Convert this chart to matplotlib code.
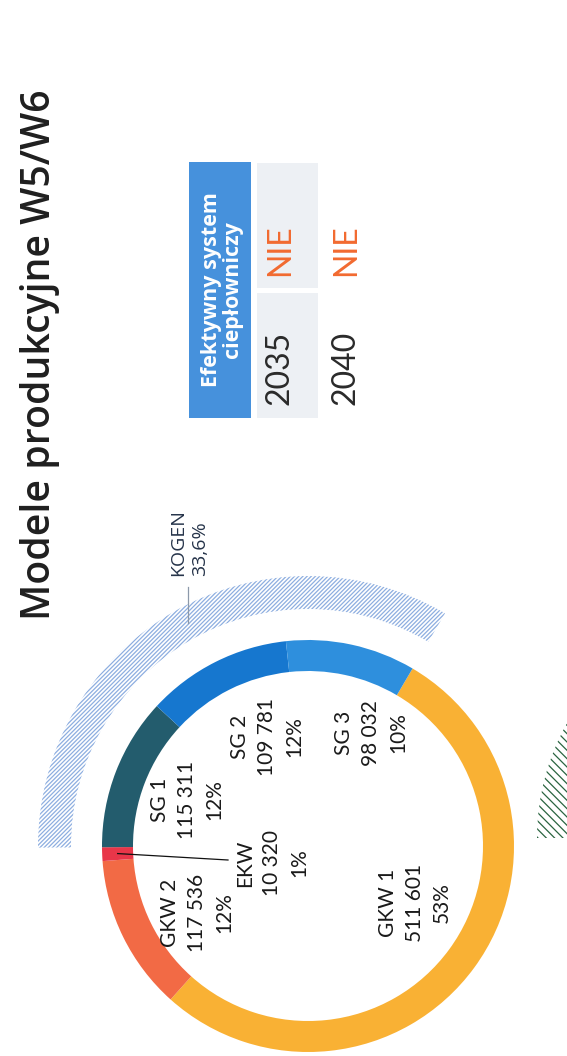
import math
import matplotlib
matplotlib.use("Agg")
import matplotlib.pyplot as plt
from matplotlib.patches import Wedge, Rectangle

# --- data ---------------------------------------------------------------
units = ["GKW 1", "GKW 2", "EKW", "SG 1", "SG 2", "SG 3"]
output_mwh = [511601, 117536, 10320, 115311, 109781, 98032]
printed_share = [53, 12, 1, 12, 12, 10]
kogen_units = ["SG 1", "SG 2", "SG 3"]

table_header = "Efektywny system\nciepłowniczy"
years = ["2035", "2040"]
answers = ["NIE", "NIE"]

title = "Modele produkcyjne W5/W6"

# --- styling ------------------------------------------------------------
colors = ["#F9B134", "#F26A45", "#E83649", "#235C6D", "#1677CF", "#2E8FDD"]
hatch_blue = "#8DAEE0"
hatch_green = "#2A6440"
header_blue = "#4691DC"
cell_gray = "#EDF0F4"
orange_txt = "#F26A30"

W, H = 567, 1056
CX, CY = 308, 846          # donut centre (page coords, y downwards)
R_OUT, RING_W = 206, 31
START = 59.5

plt.rcParams["hatch.linewidth"] = 0.9
plt.rcParams["font.family"] = ["Lato", "DejaVu Sans"]

fig = plt.figure(figsize=(W / 100, H / 100), dpi=100)
ax = fig.add_axes([0, 0, 1, 1])


def Y(y):
    return H - y


def rtext(x, y, s, **kw):
    kw.setdefault("ha", "center")
    kw.setdefault("va", "center")
    return ax.text(x, Y(y), s, rotation=90, rotation_mode="anchor", **kw)


# --- donut ----------------------------------------------------------------
ax.pie(output_mwh, colors=colors, startangle=START, counterclock=False,
       radius=R_OUT, center=(CX, Y(CY)),
       wedgeprops=dict(width=RING_W, edgecolor="none", linewidth=0))

total = sum(output_mwh)
angles = []
a = START
for v in output_mwh:
    span = 360 * v / total
    angles.append((a - span, a))
    a -= span

# KOGEN outer hatched arc spans the SG units
kogen_total = sum(v for u, v in zip(units, output_mwh) if u in kogen_units)
kogen_share = kogen_total / total
ekw_lo, ekw_hi = angles[units.index("EKW")]
k_end = ekw_lo
k_start = k_end - 360 * kogen_share
ax.add_patch(Wedge((CX, Y(CY)), 270, k_start, k_end, width=33,
                   facecolor="none", edgecolor=hatch_blue,
                   hatch="////////", linewidth=0))

# neighbouring chart's green arc at the page edge
ax.add_patch(Wedge((772, Y(838)), 235, 120, 180, width=34,
                   facecolor="none", edgecolor=hatch_green,
                   hatch="\\\\\\\\", linewidth=0))

# --- segment labels ------------------------------------------------------
label_pos = {
    "GKW 1": (415, 903),
    "GKW 2": (197, 913),
    "EKW": (272, 863),
    "SG 1": (187, 800),
    "SG 2": (267, 737),
    "SG 3": (371, 733),
}
for u, v, p in zip(units, output_mwh, printed_share):
    x, y = label_pos[u]
    txt = f"{u}\n{v:,}".replace(",", " ") + f"\n{p}%"
    rtext(x, y, txt, fontsize=15, color="#1a1a1a", linespacing=1.45,
          multialignment="center")

# EKW leader line from the middle of its ring segment
mid = math.radians((ekw_lo + ekw_hi) / 2)
r_mid = R_OUT - RING_W / 2
x0 = CX + r_mid * math.cos(mid)
y0 = Y(CY) + r_mid * math.sin(mid)
ax.plot([x0, 228], [y0, Y(860)], color="#111111", lw=0.9)

# KOGEN label and leader
kogen_txt = "KOGEN\n" + f"{100 * kogen_share:.1f}".replace(".", ",") + "%"
rtext(189, 576, kogen_txt, ha="left", fontsize=14, color="#26344A",
      family=["Open Sans", "DejaVu Sans"], fontweight="medium",
      linespacing=1.3, multialignment="left")
ax.plot([188, 188], [Y(587), Y(623)], color="#8C99AA", lw=0.9)

# --- table -----------------------------------------------------------------
ax.add_patch(Rectangle((189, Y(418)), 62, 256, facecolor=header_blue,
                       edgecolor="none"))
rtext(222, 290, table_header, color="white", fontsize=15.5,
      fontweight="bold", family=["Open Sans", "DejaVu Sans"],
      linespacing=1.0, multialignment="center")
ax.add_patch(Rectangle((257, Y(288)), 61, 125, facecolor=cell_gray,
                       edgecolor="none"))
ax.add_patch(Rectangle((257, Y(418)), 61, 125, facecolor=cell_gray,
                       edgecolor="none"))
for xc, yr, ans in zip([280, 346], years, answers):
    rtext(xc, 368, yr, fontsize=23, color="#2a2a2a")
    rtext(xc, 250, ans, fontsize=23, color=orange_txt)

# --- title -----------------------------------------------------------------
ax.text(50, Y(620), title, rotation=90, rotation_mode="anchor", ha="left",
        va="baseline", fontsize=28.3, color="#1f1f1f",
        family=["Open Sans", "DejaVu Sans"], fontweight="semibold")

ax.set_xlim(0, W)
ax.set_ylim(0, H)
ax.set_aspect("equal")
ax.axis("off")

fig.savefig("out.png", dpi=100, facecolor="white")
